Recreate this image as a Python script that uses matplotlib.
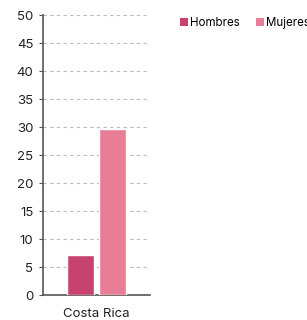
import matplotlib
matplotlib.use("Agg")
import matplotlib.pyplot as plt
from matplotlib.patches import Patch

categories = ["Costa Rica"]
series = ["Hombres", "Mujeres"]
hombres = [7.1]
mujeres = [29.7]
yticks = list(range(0, 55, 5))
colors = ["#C8426E", "#E77E96"]

plt.rcParams['font.family'] = ['Inter', 'DejaVu Sans']

fig = plt.figure(figsize=(3.07, 3.20), dpi=100)
ax = fig.add_axes([0.140, 0.078, 0.349, 0.875])

w = 0.25
off = 0.15
xs = range(len(categories))
for vals, c, o in [(hombres, colors[0], -off), (mujeres, colors[1], off)]:
    ax.bar([x + o for x in xs], vals, width=w, color=c, edgecolor="white", linewidth=1, zorder=3)

ax.set_xlim(-0.5, 0.5)
ax.set_ylim(0, 50)
ax.set_yticks(yticks)
ax.set_xticks(list(xs))
ax.set_xticklabels(categories, fontsize=9.5, color="#222222")
ax.tick_params(axis='y', labelsize=9.5, length=3, color="#555555", labelcolor="#222222", pad=4)
ax.tick_params(axis='x', length=0, pad=9)
ax.yaxis.grid(True, linestyle=(0, (3, 3)), color="#BBBBBB", linewidth=0.8, zorder=0)
ax.set_axisbelow(True)
for s in ["top", "right"]:
    ax.spines[s].set_visible(False)
ax.spines["left"].set_color("#555555")
ax.spines["bottom"].set_color("#555555")
ax.spines["left"].set_linewidth(1.2)
ax.spines["bottom"].set_linewidth(1.2)

handles = [Patch(facecolor=c, edgecolor="none") for c in colors]
fig.legend(handles, series, loc="upper left", bbox_to_anchor=(0.572, 0.96), ncol=2,
           frameon=False, fontsize=8.3, handlelength=0.7, handleheight=0.7,
           handletextpad=0.12, columnspacing=1.45, borderaxespad=0)

fig.savefig("out.png", dpi=100)
